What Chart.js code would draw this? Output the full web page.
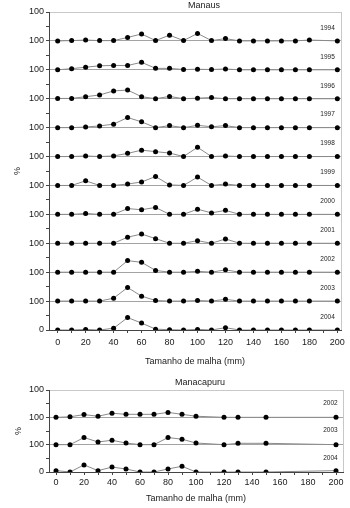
<!DOCTYPE html>
<html>
<head>
<meta charset="utf-8">
<title>Tamanho de malha</title>
<script src="https://cdn.jsdelivr.net/npm/chart.js@4.4.1/dist/chart.umd.min.js"></script>
<style>
  html, body { margin: 0; padding: 0; background: #fff; }
  .panel { position: relative; width: 350px; }
  canvas { display: block; }
</style>
</head>
<body>
<div class="panel" style="height:372px"><canvas id="chartManaus"></canvas></div>
<div class="panel" style="height:136px"><canvas id="chartManacapuru"></canvas></div>
<script>
// mesh sizes (mm) and axis ticks
const meshManaus = [0, 10, 20, 30, 40, 50, 60, 70, 80, 90, 100, 110, 120, 130, 140, 150, 160, 170, 180, 200];
const meshManacapuru = [0, 10, 20, 30, 40, 50, 60, 70, 80, 90, 100, 120, 130, 150, 200];
const xTicks = [0, 10, 20, 30, 40, 50, 60, 70, 80, 90, 100, 110, 120, 130, 140, 150, 160, 170, 180, 190, 200];

// Manaus - % per mesh size, one row per year
const yearsManaus = ['1994', '1995', '1996', '1997', '1998', '1999', '2000', '2001', '2002', '2003', '2004'];
const manaus1994 = [0, 1, 3, 1, 1, 12, 24, 1, 20, 1, 26, 1, 8, 0, 0, 0, 0, 0, 3, 0];
const manaus1995 = [0, 4, 9, 14, 15, 15, 26, 5, 5, 1, 2, 1, 3, 0, 0, 0, 0, 0, 0, 0];
const manaus1996 = [1, 1, 7, 13, 27, 30, 7, 0, 8, 0, 2, 4, 0, 0, 0, 0, 0, 0, 0, 0];
const manaus1997 = [0, 0, 2, 6, 12, 35, 20, 0, 7, 0, 8, 3, 7, 0, 0, 0, 0, 0, 0, 0];
const manaus1998 = [0, 0, 2, 0, 2, 11, 22, 17, 12, 0, 32, 0, 2, 0, 0, 0, 0, 0, 0, 0];
const manaus1999 = [0, 0, 16, 0, 0, 5, 12, 31, 2, 0, 29, 0, 5, 0, 0, 0, 0, 0, 0, 0];
const manaus2000 = [0, 0, 3, 0, 0, 20, 16, 24, 0, 0, 18, 5, 14, 0, 0, 0, 0, 0, 0, 0];
const manaus2001 = [0, 0, 0, 0, 0, 21, 32, 16, 0, 0, 9, 0, 15, 0, 0, 0, 0, 0, 0, 0];
const manaus2002 = [0, 0, 0, 0, 0, 40, 34, 6, 0, 0, 3, 0, 8, 0, 0, 0, 0, 0, 0, 0];
const manaus2003 = [0, 0, 0, 0, 10, 47, 17, 2, 0, 0, 2, 0, 6, 0, 0, 0, 0, 0, 0, 0];
const manaus2004 = [0, 0, 2, 0, 6, 43, 24, 3, 1, 0, 2, 0, 8, 0, 0, 0, 0, 0, 0, 0];

// Manacapuru
const yearsManacapuru = ['2002', '2003', '2004'];
const manacapuru2002 = [0, 2, 10, 4, 15, 11, 11, 11, 18, 11, 4, 0, 0, 0, 0];
const manacapuru2003 = [0, 0, 26, 10, 16, 6, 0, 0, 26, 20, 6, 0, 5, 5, 0];
const manacapuru2004 = [5, 0, 26, 5, 18, 11, 0, 0, 11, 21, 0, 0, 0, 0, 5];

Chart.defaults.font.family = '"Liberation Sans", Arial, sans-serif';
Chart.defaults.font.size = 9;
Chart.defaults.color = '#1a1a1a';

const axisColor = '#444';
const font9 = { size: 9 };

// each year sits in its own 100-unit band, stacked from the bottom up
function buildDatasets(years, rows, mesh) {
    return rows.map(function (vals, i) {
        const offset = (rows.length - 1 - i) * 100;
        return {
            label: years[i],
            offset: offset,
            data: vals.map(function (v, j) { return { x: mesh[j], y: offset + v }; }),
            borderColor: '#8a8a8a',
            borderWidth: 1,
            pointRadius: 2.5,
            pointBackgroundColor: '#000',
            pointBorderWidth: 0,
            tension: 0
        };
    });
}

function yScale(max, titlePad) {
    return {
        type: 'linear',
        min: 0,
        max: max,
        afterBuildTicks: function (scale) {
            const t = [];
            for (let v = 0; v <= max; v += 50) t.push({ value: v });
            scale.ticks = t;
        },
        afterFit: function (scale) { scale.width = 49; },
        ticks: {
            autoSkip: false,
            padding: 2,
            font: font9,
            callback: function (v) { return v % 100 ? '' : (v === 0 ? '0' : '100'); }
        },
        grid: {
            color: function (ctx) {
                const v = ctx.tick.value;
                if (v === max) return '#c8c8c8';
                if (v > 0 && v % 100 === 0) return '#a3a3a3';
                return 'rgba(0,0,0,0)';
            },
            tickColor: axisColor,
            tickLength: 3
        },
        border: { color: axisColor },
        title: { display: true, text: '%', font: font9, padding: { top: titlePad, bottom: 0 } }
    };
}

function xScale(min, max, height, tickPad, titlePad) {
    return {
        type: 'linear',
        min: min,
        max: max,
        afterBuildTicks: function (scale) {
            scale.ticks = xTicks.map(function (v) { return { value: v }; });
        },
        afterFit: function (scale) { scale.height = height; },
        ticks: {
            autoSkip: false,
            maxRotation: 0,
            padding: tickPad,
            font: font9,
            callback: function (v) { return v % 20 ? '' : String(v); }
        },
        grid: { drawOnChartArea: false, tickColor: axisColor, tickLength: 3 },
        border: { color: axisColor },
        title: { display: true, text: 'Tamanho de malha (mm)', font: font9, padding: { top: 0, bottom: titlePad } }
    };
}

// frame on the right, panel title and the year tag of every band
const panelDecor = {
    id: 'panelDecor',
    beforeDatasetsDraw: function (chart) {
        const area = chart.chartArea;
        const ctx = chart.ctx;
        const x = Math.round(area.right) + 0.5;
        ctx.save();
        ctx.strokeStyle = '#c8c8c8';
        ctx.lineWidth = 1;
        ctx.beginPath();
        ctx.moveTo(x, area.top);
        ctx.lineTo(x, area.bottom);
        ctx.stroke();
        ctx.restore();
    },
    afterDraw: function (chart, args, opts) {
        const ctx = chart.ctx;
        const sx = chart.scales.x;
        const sy = chart.scales.y;
        ctx.save();
        ctx.fillStyle = '#1a1a1a';
        ctx.textAlign = 'center';
        ctx.textBaseline = 'middle';
        ctx.font = '9px "Liberation Sans", Arial, sans-serif';
        ctx.fillText(opts.title, opts.titleX, opts.titleY);
        ctx.font = '6.5px "Liberation Sans", Arial, sans-serif';
        chart.data.datasets.forEach(function (ds) {
            ctx.fillText(ds.label, sx.getPixelForValue(opts.tagX), sy.getPixelForValue(ds.offset + opts.tagLift));
        });
        ctx.restore();
    }
};

const chartManaus = new Chart(document.getElementById('chartManaus').getContext('2d'), {
    type: 'line',
    data: {
        datasets: buildDatasets(yearsManaus, [
            manaus1994, manaus1995, manaus1996, manaus1997, manaus1998, manaus1999,
            manaus2000, manaus2001, manaus2002, manaus2003, manaus2004
        ], meshManaus)
    },
    options: {
        responsive: true,
        maintainAspectRatio: false,
        animation: false,
        layout: { padding: { top: 12, right: 9, bottom: 0, left: 0 } },
        plugins: {
            legend: { display: false },
            tooltip: { enabled: false },
            panelDecor: { title: 'Manaus', titleX: 204, titleY: 5.5, tagX: 193, tagLift: 45 }
        },
        scales: {
            x: xScale(-6.2, 202.6, 42, 4, 5),
            y: yScale(1100, 12)
        }
    },
    plugins: [panelDecor]
});

const chartManacapuru = new Chart(document.getElementById('chartManacapuru').getContext('2d'), {
    type: 'line',
    data: {
        datasets: buildDatasets(yearsManacapuru, [manacapuru2002, manacapuru2003, manacapuru2004], meshManacapuru)
    },
    options: {
        responsive: true,
        maintainAspectRatio: false,
        animation: false,
        layout: { padding: { top: 18, right: 7, bottom: 0, left: 0 } },
        plugins: {
            legend: { display: false },
            tooltip: { enabled: false },
            panelDecor: { title: 'Manacapuru', titleX: 200, titleY: 11, tagX: 196, tagLift: 52 }
        },
        scales: {
            x: xScale(-5, 205, 36, 2, 4),
            y: yScale(300, 13)
        }
    },
    plugins: [panelDecor]
});
</script>
</body>
</html>
